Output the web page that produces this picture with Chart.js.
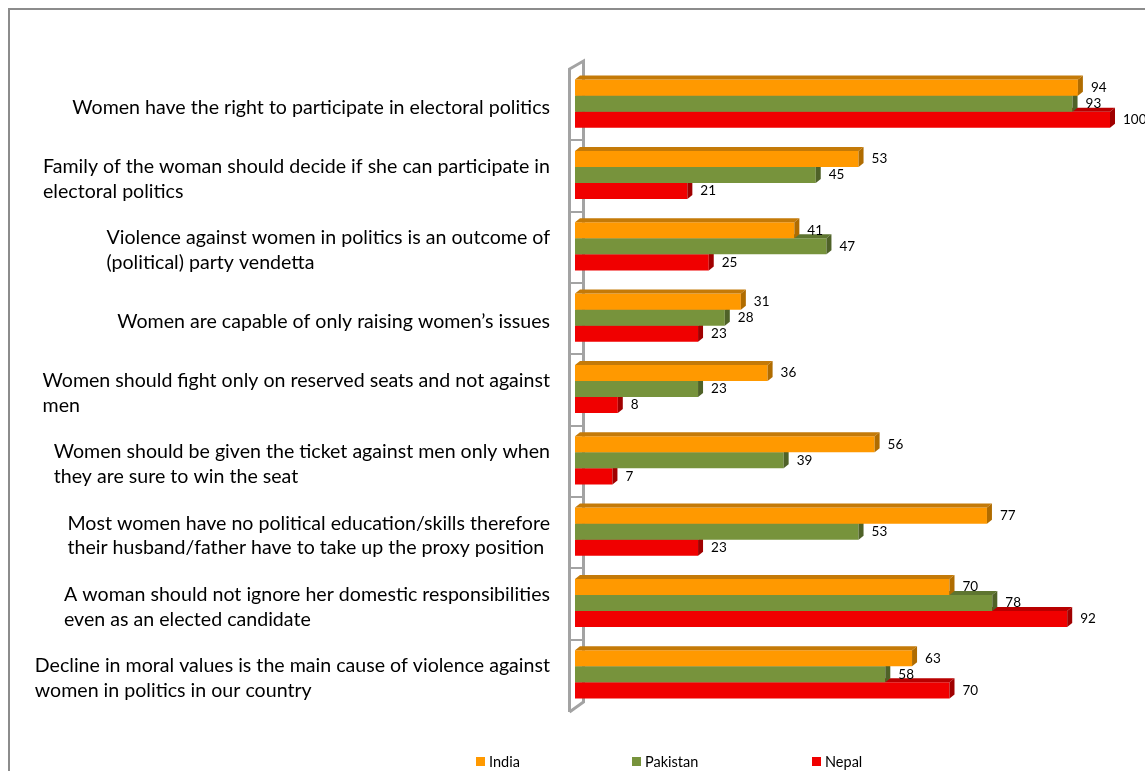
<!DOCTYPE html>
<html>
<head>
<meta charset="utf-8">
<script src="https://cdn.jsdelivr.net/npm/chart.js@4.4.1/dist/chart.umd.min.js"></script>
<style>
  html, body { margin: 0; padding: 0; background: #fff; overflow: hidden; }
  #frame { position: absolute; left: 8px; top: 8px; width: 1200px; height: 800px; border: 2px solid #8c8c8c; }
  #wrap { position: absolute; left: 0; top: 0; width: 1145px; height: 771px; }
</style>
</head>
<body>
<div id="frame"></div>
<div id="wrap"><canvas id="chart" width="1145" height="771"></canvas></div>
<script>
/* ---------- data ---------- */

const categories = [
  ["Women have the right to participate in electoral politics"],
  ["Family of the woman should decide if she can participate in", "electoral politics"],
  ["Violence against women in politics is an outcome of", "(political) party vendetta"],
  ["Women are capable of only raising women\u2019s issues"],
  ["Women should fight only on reserved seats and not against", "men"],
  ["Women should be given the ticket against men only when", "they are sure to win the seat"],
  ["Most women have no political education/skills therefore", "their husband/father have to take up the proxy position"],
  ["A woman should not ignore her domestic responsibilities", "even as an elected candidate"],
  ["Decline in moral values is the main cause of violence against", "women in politics in our country"]
];
const seriesNames = ["India", "Pakistan", "Nepal"];
const india    = [94, 53, 41, 31, 36, 56, 77, 70, 63];
const pakistan = [93, 45, 47, 28, 23, 39, 53, 78, 58];
const nepal    = [100, 21, 25, 23, 8, 7, 23, 92, 70];

/* ---------- styles ---------- */

const frontColors = ["#FF9900", "#77933C", "#F00000"];
const topColors   = ["#C47A08", "#5E7530", "#B80000"];
const sideColors  = ["#B06C00", "#4F6228", "#A00000"];
const DX = 5, DY = 4;   // bar depth
const FONT = "Lato, 'Open Sans', sans-serif";

/* ---------- 3d wall on the category axis ---------- */

const wallPlugin = {
  id: "wall",
  beforeDatasetsDraw(chart) {
    const ctx = chart.ctx;
    const { left, top, bottom } = chart.chartArea;
    const ys = chart.scales.y;
    const fx = left - 5.5, bx = left + 8.5;
    ctx.save();
    ctx.strokeStyle = "#A3A3A3";
    ctx.lineWidth = 3;
    ctx.lineJoin = "miter";
    ctx.beginPath();
    ctx.moveTo(fx, bottom + 2);
    ctx.lineTo(fx, top + 1);
    ctx.lineTo(bx, top - 7);
    ctx.lineTo(bx, bottom - 8);
    ctx.lineTo(fx, bottom + 2);
    ctx.stroke();
    ctx.lineWidth = 2;
    ctx.beginPath();
    for (let i = 1; i < categories.length; i++) {
      const t = Math.round(ys.getPixelForValue(i - 0.5)) + 1;
      ctx.moveTo(fx, t);
      ctx.lineTo(bx, t);
    }
    ctx.stroke();
    ctx.restore();
  }
};

/* ---------- top and side faces of each bar, value labels ---------- */

const bar3dPlugin = {
  id: "bar3d",
  afterDatasetDraw(chart, args) {
    const ctx = chart.ctx;
    const di = args.index;
    ctx.save();
    args.meta.data.forEach(el => {
      const p = el.getProps(["x", "y", "base", "height"], true);
      const t = p.y - p.height / 2, b = p.y + p.height / 2;
      ctx.fillStyle = topColors[di];
      ctx.beginPath();
      ctx.moveTo(p.base, t);
      ctx.lineTo(p.base + DX, t - DY);
      ctx.lineTo(p.x + DX, t - DY);
      ctx.lineTo(p.x, t);
      ctx.closePath();
      ctx.fill();
      ctx.fillStyle = sideColors[di];
      ctx.beginPath();
      ctx.moveTo(p.x, t);
      ctx.lineTo(p.x + DX, t - DY);
      ctx.lineTo(p.x + DX, b - DY);
      ctx.lineTo(p.x, b);
      ctx.closePath();
      ctx.fill();
    });
    ctx.restore();
  },
  afterDatasetsDraw(chart) {
    const ctx = chart.ctx;
    ctx.save();
    ctx.font = "13.5px " + FONT;
    ctx.fillStyle = "#000";
    ctx.textBaseline = "middle";
    ctx.textAlign = "left";
    chart.data.datasets.forEach((ds, di) => {
      chart.getDatasetMeta(di).data.forEach((el, i) => {
        const p = el.getProps(["x", "y"], true);
        ctx.fillText(String(ds.data[i]), p.x + DX + 8, p.y);
      });
    });
    ctx.restore();
  }
};

/* ---------- category labels: block right aligned, lines left aligned ---------- */

const labelPlugin = {
  id: "catLabels",
  afterDraw(chart) {
    const ctx = chart.ctx;
    const ys = chart.scales.y;
    const right = chart.chartArea.left - 25;
    ctx.save();
    ctx.font = "19.6px " + FONT;
    ctx.fillStyle = "#000";
    ctx.textBaseline = "middle";
    ctx.textAlign = "left";
    categories.forEach((lines, i) => {
      const cy = ys.getPixelForValue(i) + 4;
      const w = Math.max(...lines.map(l => ctx.measureText(l).width));
      const x0 = right - w;
      lines.forEach((l, k) => {
        ctx.fillText(l, x0, cy + (k - (lines.length - 1) / 2) * 24.5);
      });
    });
    ctx.restore();
  }
};

/* ---------- legend ---------- */

const legendPlugin = {
  id: "bottomLegend",
  afterDraw(chart) {
    const ctx = chart.ctx;
    const xs = [476, 632, 812];
    ctx.save();
    ctx.font = "14.5px " + FONT;
    ctx.textBaseline = "middle";
    ctx.textAlign = "left";
    chart.data.datasets.forEach((ds, i) => {
      ctx.fillStyle = ds.backgroundColor;
      ctx.fillRect(xs[i], 757, 9, 9);
      ctx.fillStyle = "#000";
      ctx.fillText(ds.label, xs[i] + 13, 762);
    });
    ctx.restore();
  }
};

/* ---------- chart ---------- */

const chart = new Chart(document.getElementById("chart"), {
  type: "bar",
  plugins: [wallPlugin, bar3dPlugin, labelPlugin, legendPlugin],
  data: {
    labels: categories,
    datasets: [
      { label: seriesNames[0], data: india, backgroundColor: frontColors[0] },
      { label: seriesNames[1], data: pakistan, backgroundColor: frontColors[1] },
      { label: seriesNames[2], data: nepal, backgroundColor: frontColors[2] }
    ]
  },
  options: {
    indexAxis: "y",
    responsive: false,
    devicePixelRatio: 1,
    animation: false,
    events: [],
    layout: { padding: { left: 0, right: 35, top: 68, bottom: 61 } },
    datasets: {
      bar: { categoryPercentage: 0.675, barPercentage: 1, borderWidth: 0 }
    },
    scales: {
      x: {
        min: 0,
        max: 100,
        display: false
      },
      y: {
        grid: { display: false },
        border: { display: false },
        ticks: { display: false },
        afterFit(scale) { scale.width = 575; }
      }
    },
    plugins: {
      legend: { display: false },
      tooltip: { enabled: false }
    }
  }
});
</script>
</body>
</html>
